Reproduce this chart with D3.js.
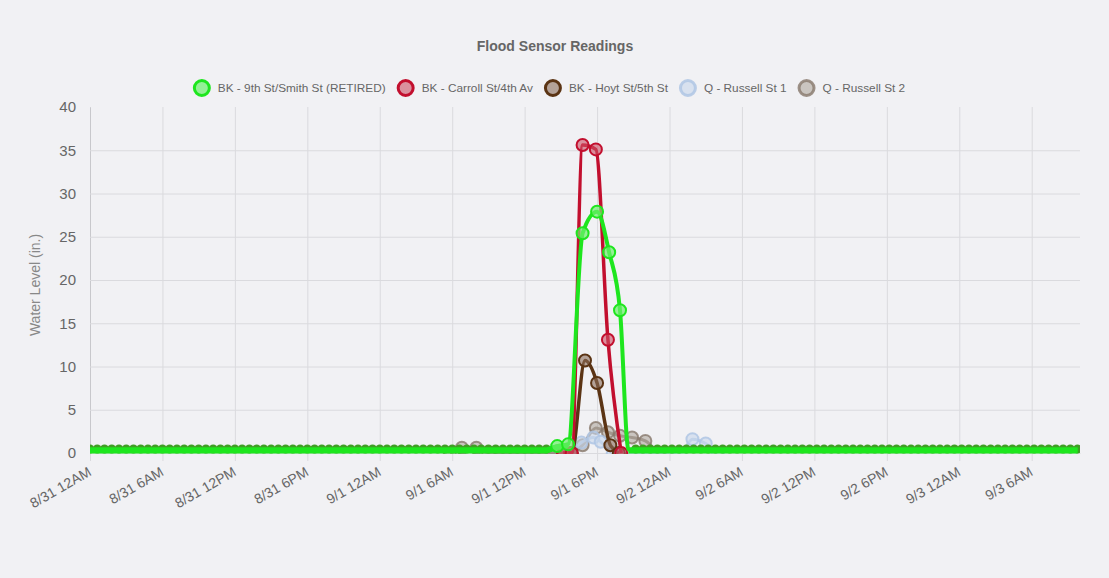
<!DOCTYPE html>
<html>
<head>
<meta charset="utf-8">
<script src="https://cdn.jsdelivr.net/npm/d3@7"></script>
<style>
  body { margin: 0; background: #f1f1f4; }
  svg { display: block; font-family: "Liberation Sans", Arial, Helvetica, sans-serif; }
</style>
</head>
<body>
<div id="chart"></div>
<script>
// hours counted from 8/31 12AM
var seriesNames = ["BK - 9th St/Smith St (RETIRED)", "BK - Carroll St/4th Av", "BK - Hoyt St/5th St", "Q - Russell St 1", "Q - Russell St 2"];

var greenIdleHours = [0, 0.6, 1.2, 1.8, 2.4, 3, 3.6, 4.2, 4.8, 5.4, 6, 6.6, 7.2, 7.8, 8.4, 9, 9.6, 10.2, 10.8, 11.4,
  12, 12.6, 13.2, 13.8, 14.4, 15, 15.6, 16.2, 16.8, 17.4, 18, 18.6, 19.2, 19.8, 20.4, 21, 21.6, 22.2, 22.8, 23.4,
  24, 24.6, 25.2, 25.8, 26.4, 27, 27.6, 28.2, 28.8, 29.4, 30, 30.6, 31.2, 31.8, 32.4, 33, 33.6, 34.2, 34.8, 35.4,
  36, 36.6, 37.2, 37.8,
  45.2, 45.8, 46.4, 47, 47.6, 48.2, 48.8, 49.4, 50, 50.6, 51.2, 51.8, 52.4, 53, 53.6, 54.2, 54.8, 55.4, 56, 56.6,
  57.2, 57.8, 58.4, 59, 59.6, 60.2, 60.8, 61.4, 62, 62.6, 63.2, 63.8, 64.4, 65, 65.6, 66.2, 66.8, 67.4, 68, 68.6,
  69.2, 69.8, 70.4, 71, 71.6, 72.2, 72.8, 73.4, 74, 74.6, 75.2, 75.8, 76.4, 77, 77.6, 78.2, 78.8, 79.4, 80, 80.6,
  81.2, 81.8];
var greenIdleLevel = 0.4;
var greenStormHours = [38.7, 39.6, 40.8, 42.0, 43.0, 43.9, 44.6];
var greenStormLevels = [0.8, 1.0, 25.4, 27.9, 23.2, 16.5, 0.4];

var carrollHours = [39.2, 39.9, 40.8, 41.9, 42.9, 44.0];
var carrollLevels = [0, 0, 35.6, 35.1, 13.1, 0];

var hoytHours = [39.2, 39.9, 41.0, 42.0, 43.1, 43.8];
var hoytLevels = [0, 0, 10.7, 8.1, 0.9, 0];

var russell1Hours = [39.8, 40.7, 41.7, 42.3, 43.3, 48.9, 49.9, 51.0, 52.0];
var russell1Levels = [0, 1.2, 1.8, 1.3, 0, 0, 1.6, 1.1, 0];

var russell2Hours = [29.8, 30.8, 32.0, 33.0, 39.8, 40.8, 41.9, 42.9, 43.9, 44.9, 46.0, 47.0];
var russell2Levels = [0, 0.6, 0.6, 0, 0, 0.9, 2.9, 2.4, 2.0, 1.8, 1.4, 0];

var yTicks = [0, 5, 10, 15, 20, 25, 30, 35, 40];

var W = 1109, H = 578;
var plot = { left: 90, right: 1080, top: 107, bottom: 453 };
var start = new Date(2018, 7, 31, 0, 0);
var toDate = function(h) { return new Date(start.getTime() + h * 3600 * 1000); };

var svg = d3.select("#chart").append("svg")
    .attr("width", W)
    .attr("height", H);

svg.append("rect").attr("width", W).attr("height", H).attr("fill", "#f1f1f4");

var x = d3.scaleTime().domain([toDate(0), toDate(82)]).range([plot.left, plot.right]);
var y = d3.scaleLinear().domain([0, 40]).range([plot.bottom, plot.top]);

// title
svg.append("text")
  .attr("x", 555).attr("y", 51)
  .attr("text-anchor", "middle")
  .attr("font-size", 14).attr("font-weight", "bold")
  .attr("fill", "#666")
  .text("Flood Sensor Readings");

// grid + axes
var gridColor = "#dadade";
var xTicks = x.ticks(d3.timeHour.every(6));
var fmt = d3.timeFormat("%-m/%-d %-I%p");

var xAxis = svg.append("g")
  .attr("transform", "translate(0," + plot.bottom + ")")
  .call(d3.axisBottom(x).tickValues(xTicks).tickFormat(fmt).tickSize(8).tickSizeOuter(0));
xAxis.select(".domain").attr("stroke", gridColor);
xAxis.selectAll(".tick line").attr("stroke", gridColor).attr("y1", plot.top - plot.bottom);
xAxis.selectAll(".tick text")
  .attr("font-size", 14).attr("fill", "#666")
  .attr("text-anchor", "end")
  .attr("transform", "translate(-9,3) rotate(-30)")
  .attr("dy", "0.75em");

var yAxis = svg.append("g")
  .attr("transform", "translate(" + plot.left + ",0)")
  .call(d3.axisLeft(y).tickValues(yTicks).tickSize(10).tickPadding(4).tickSizeOuter(0));
yAxis.select(".domain").attr("stroke", "#c8c8cc");
yAxis.selectAll(".tick line")
  .attr("stroke", gridColor)
  .attr("x2", function(d) { return d === 40 ? 0 : plot.right - plot.left; });
yAxis.selectAll(".tick text").attr("font-size", 15).attr("fill", "#666");

svg.append("text")
  .attr("transform", "translate(40," + ((plot.top + plot.bottom) / 2 + 5) + ") rotate(-90)")
  .attr("text-anchor", "middle")
  .attr("font-size", 14).attr("fill", "#888")
  .text("Water Level (in.)");

// series
var styles = [
  { line: "#1ee61e", fill: "rgba(110,240,110,0.7)", width: 4 },
  { line: "#c20f2e", fill: "rgba(205,80,100,0.6)", width: 3.5 },
  { line: "#5b3414", fill: "rgba(140,110,90,0.6)", width: 3.5 },
  { line: "rgba(175,198,228,0.85)", fill: "rgba(200,215,235,0.6)", width: 3 },
  { line: "rgba(135,120,108,0.8)", fill: "rgba(170,160,150,0.55)", width: 3 }
];

var pairs = function(hs, vs) { return hs.map(function(h, i) { return { h: h, v: vs[i] }; }); };
var idle = function(hs) { return hs.map(function(h) { return { h: h, v: greenIdleLevel }; }); };

var greenAll = idle(greenIdleHours.slice(0, 64))
  .concat(pairs(greenStormHours, greenStormLevels))
  .concat(idle(greenIdleHours.slice(64)));

var series = [
  greenAll,
  pairs(carrollHours, carrollLevels),
  pairs(hoytHours, hoytLevels),
  pairs(russell1Hours, russell1Levels),
  pairs(russell2Hours, russell2Levels)
];

svg.append("clipPath").attr("id", "clip")
  .append("rect")
  .attr("x", plot.left).attr("y", plot.top - 10)
  .attr("width", plot.right - plot.left).attr("height", plot.bottom - plot.top + 11);

var lineGen = d3.line()
  .x(function(d) { return x(toDate(d.h)); })
  .y(function(d) { return y(d.v); })
  .curve(d3.curveMonotoneX);

var marks = svg.append("g").attr("clip-path", "url(#clip)");

// draw last series first, so the first one sits on top
[4, 3, 2, 1, 0].forEach(function(k) {
  var st = styles[k];
  var g = marks.append("g");
  if (k === 0) {
    // dark bumps along the idle baseline
    g.selectAll("circle.idle").data(greenIdleHours).enter().append("circle")
      .attr("class", "idle")
      .attr("cx", function(h) { return x(toDate(h)); })
      .attr("cy", function() { return y(greenIdleLevel) - 0.5; })
      .attr("r", 4.5)
      .attr("fill", "#3f9e24");
    // thicker band where the sensors sit idle
    g.append("path")
      .datum(series[0])
      .attr("fill", "none")
      .attr("stroke", st.line)
      .attr("stroke-width", 6)
      .attr("d", d3.line()
        .defined(function(d) { return d.v < 1.5; })
        .x(function(d) { return x(toDate(d.h)); })
        .y(function(d) { return y(d.v) + 1; }));
  }
  g.append("path")
    .datum(series[k])
    .attr("fill", "none")
    .attr("stroke", st.line)
    .attr("stroke-width", st.width)
    .attr("d", lineGen);
  var pts = k === 0 ? pairs(greenStormHours, greenStormLevels).slice(0, 6) : series[k];
  g.selectAll("circle.pt").data(pts).enter().append("circle")
    .attr("class", "pt")
    .attr("cx", function(d) { return x(toDate(d.h)); })
    .attr("cy", function(d) { return y(d.v); })
    .attr("r", 6)
    .attr("fill", st.fill)
    .attr("stroke", st.line)
    .attr("stroke-width", 2);
});

// legend
var legend = svg.append("g");
var cx = 0;
seriesNames.forEach(function(name, i) {
  var it = legend.append("g");
  it.append("circle").attr("cx", 0).attr("cy", 0).attr("r", 7.5)
    .attr("fill", styles[i].fill).attr("stroke", styles[i].line).attr("stroke-width", 3);
  var t = it.append("text").attr("x", 16).attr("y", 4)
    .attr("font-size", 11.8).attr("fill", "#666").text(name);
  var w = t.node().getComputedTextLength();
  it.attr("transform", "translate(" + cx + ",0)");
  cx += 16 + w + 20;
});
var total = cx - 20 + 9;
legend.attr("transform", "translate(" + (549 - total / 2 + 9) + ",88)");
</script>
</body>
</html>
